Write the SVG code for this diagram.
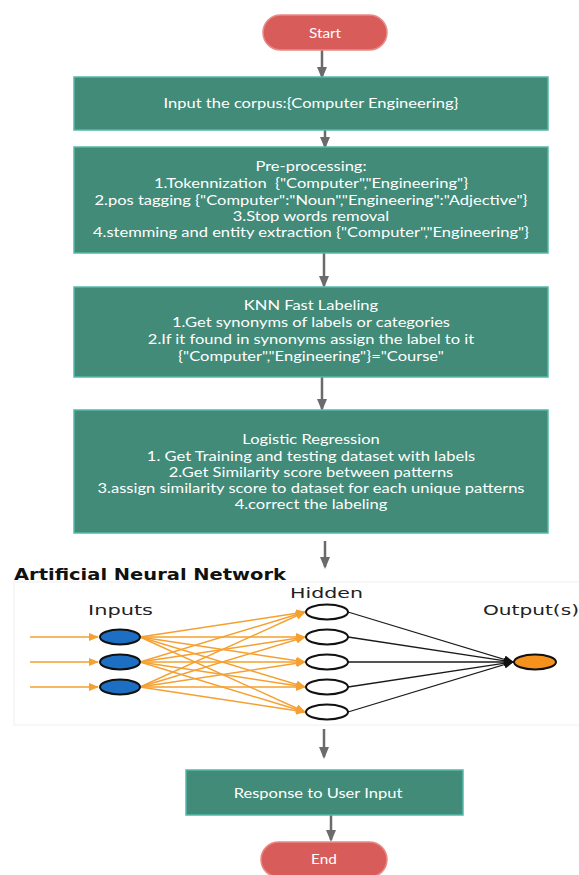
<svg xmlns="http://www.w3.org/2000/svg" width="579" height="875" viewBox="0 0 579 875">
<style>
.box{fill:#418b78;stroke:#55b8aa;stroke-width:1.5}
.pill{fill:#d85c5a;stroke:#e98a86;stroke-width:1.5}
.t{font-family:Lato,"Open Sans","Liberation Sans",sans-serif;font-size:14px;fill:#ffffff;text-anchor:middle;white-space:pre}
.ts{font-size:13px}
.conn{stroke:#6b6b6b;stroke-width:2.5;fill:none}
.or{stroke:#f5a030;stroke-width:1.4;fill:none}
.bk{stroke:#1a1a1a;stroke-width:1.3;fill:none}
.ann{font-family:"DejaVu Sans",Verdana,sans-serif;font-size:14px;fill:#222}
</style>
<defs>
<marker id="ah" markerWidth="12" markerHeight="10" refX="10" refY="5" orient="auto" markerUnits="userSpaceOnUse">
<path d="M0,0 L12,5 L0,10 Z" fill="#6b6b6b"/>
</marker>
<marker id="ao" markerWidth="10" markerHeight="8" refX="9" refY="4" orient="auto" markerUnits="userSpaceOnUse">
<path d="M0,0 L10,4 L0,8 Z" fill="#f5a030"/>
</marker>
<marker id="ab" markerWidth="10" markerHeight="8" refX="9" refY="4" orient="auto" markerUnits="userSpaceOnUse">
<path d="M0,0 L10,4 L0,8 Z" fill="#111"/>
</marker>
</defs>
<rect width="579" height="875" fill="#ffffff"/>

<g id="connectors">
<line class="conn" x1="322" y1="50" x2="322" y2="77" marker-end="url(#ah)"/>
<line class="conn" x1="325" y1="130" x2="325" y2="147" marker-end="url(#ah)"/>
<line class="conn" x1="324" y1="253" x2="324" y2="286" marker-end="url(#ah)"/>
<line class="conn" x1="322" y1="377" x2="322" y2="409" marker-end="url(#ah)"/>
<line class="conn" x1="325" y1="541" x2="325" y2="567" marker-end="url(#ah)"/>
<line class="conn" x1="324" y1="729" x2="324" y2="757" marker-end="url(#ah)"/>
<line class="conn" x1="331" y1="815" x2="331" y2="840" marker-end="url(#ah)"/>
</g>

<g id="start">
<rect class="pill" x="263" y="15" width="124" height="35" rx="17.5"/>
<text class="t ts" transform="translate(325,38) scale(1.18,1)">Start</text>
</g>

<g id="input">
<rect class="box" x="74" y="77" width="474" height="53"/>
<text class="t" transform="translate(311,108) scale(1.18,1)">Input the corpus:{Computer Engineering}</text>
</g>

<g id="preprocessing">
<rect class="box" x="74" y="147" width="474" height="106"/>
<text class="t" transform="translate(311,171) scale(1.18,1)">Pre-processing:</text>
<text class="t" transform="translate(311,188) scale(1.18,1)">1.Tokennization  {"Computer","Engineering"}</text>
<text class="t" transform="translate(311,205) scale(1.18,1)">2.pos tagging {"Computer":"Noun","Engineering":"Adjective"}</text>
<text class="t" transform="translate(311,221) scale(1.18,1)">3.Stop words removal</text>
<text class="t" transform="translate(311,237) scale(1.18,1)">4.stemming and entity extraction {"Computer","Engineering"}</text>
</g>

<g id="knn">
<rect class="box" x="74" y="287" width="474" height="90"/>
<text class="t" transform="translate(311,310) scale(1.18,1)">KNN Fast Labeling</text>
<text class="t" transform="translate(311,327) scale(1.18,1)">1.Get synonyms of labels or categories</text>
<text class="t" transform="translate(311,344) scale(1.18,1)">2.If it found in synonyms assign the label to it</text>
<text class="t" transform="translate(311,361) scale(1.18,1)">{"Computer","Engineering"}="Course"</text>
</g>

<g id="logistic">
<rect class="box" x="74" y="410" width="474" height="123"/>
<text class="t" transform="translate(311,444) scale(1.18,1)">Logistic Regression</text>
<text class="t" transform="translate(311,461) scale(1.18,1)">1. Get Training and testing dataset with labels</text>
<text class="t" transform="translate(311,477) scale(1.18,1)">2.Get Similarity score between patterns</text>
<text class="t" transform="translate(311,493) scale(1.18,1)">3.assign similarity score to dataset for each unique patterns</text>
<text class="t" transform="translate(311,509) scale(1.18,1)">4.correct the labeling</text>
</g>

<g id="ann">
<rect x="14" y="582" width="570" height="143" fill="#ffffff" stroke="#f0f0f0" stroke-width="1"/>
<text x="14" y="580" font-family="DejaVu Sans,Verdana,sans-serif" font-weight="bold" font-size="16" fill="#111" textLength="272" lengthAdjust="spacingAndGlyphs">Artificial Neural Network</text>
<text class="ann" x="88" y="615" textLength="65" lengthAdjust="spacingAndGlyphs">Inputs</text>
<text class="ann" x="290" y="598" textLength="73" lengthAdjust="spacingAndGlyphs">Hidden</text>
<text class="ann" x="483" y="615" textLength="96" lengthAdjust="spacingAndGlyphs">Output(s)</text>
<g>
<line class="or" x1="30" y1="637" x2="98" y2="637" marker-end="url(#ao)"/>
<line class="or" x1="30" y1="662" x2="98" y2="662" marker-end="url(#ao)"/>
<line class="or" x1="30" y1="687" x2="98" y2="687" marker-end="url(#ao)"/>
<line class="or" x1="140" y1="637" x2="305" y2="612" marker-end="url(#ao)"/>
<line class="or" x1="140" y1="637" x2="305" y2="637" marker-end="url(#ao)"/>
<line class="or" x1="140" y1="637" x2="305" y2="662" marker-end="url(#ao)"/>
<line class="or" x1="140" y1="637" x2="305" y2="687" marker-end="url(#ao)"/>
<line class="or" x1="140" y1="637" x2="305" y2="712" marker-end="url(#ao)"/>
<line class="or" x1="140" y1="662" x2="305" y2="612" marker-end="url(#ao)"/>
<line class="or" x1="140" y1="662" x2="305" y2="637" marker-end="url(#ao)"/>
<line class="or" x1="140" y1="662" x2="305" y2="662" marker-end="url(#ao)"/>
<line class="or" x1="140" y1="662" x2="305" y2="687" marker-end="url(#ao)"/>
<line class="or" x1="140" y1="662" x2="305" y2="712" marker-end="url(#ao)"/>
<line class="or" x1="140" y1="687" x2="305" y2="612" marker-end="url(#ao)"/>
<line class="or" x1="140" y1="687" x2="305" y2="637" marker-end="url(#ao)"/>
<line class="or" x1="140" y1="687" x2="305" y2="662" marker-end="url(#ao)"/>
<line class="or" x1="140" y1="687" x2="305" y2="687" marker-end="url(#ao)"/>
<line class="or" x1="140" y1="687" x2="305" y2="712" marker-end="url(#ao)"/>
<line class="bk" x1="348" y1="612" x2="513" y2="662" marker-end="url(#ab)"/>
<line class="bk" x1="348" y1="637" x2="513" y2="662" marker-end="url(#ab)"/>
<line class="bk" x1="348" y1="662" x2="513" y2="662" marker-end="url(#ab)"/>
<line class="bk" x1="348" y1="687" x2="513" y2="662" marker-end="url(#ab)"/>
<line class="bk" x1="348" y1="712" x2="513" y2="662" marker-end="url(#ab)"/>
</g>
<g stroke="#111" stroke-width="2">
<ellipse cx="120" cy="637" rx="20" ry="7.5" fill="#1c6fc2"/>
<ellipse cx="120" cy="662" rx="20" ry="7.5" fill="#1c6fc2"/>
<ellipse cx="120" cy="687" rx="20" ry="7.5" fill="#1c6fc2"/>
<ellipse cx="327" cy="612" rx="21" ry="7.5" fill="#ffffff"/>
<ellipse cx="327" cy="637" rx="21" ry="7.5" fill="#ffffff"/>
<ellipse cx="327" cy="662" rx="21" ry="7.5" fill="#ffffff"/>
<ellipse cx="327" cy="687" rx="21" ry="7.5" fill="#ffffff"/>
<ellipse cx="327" cy="712" rx="21" ry="7.5" fill="#ffffff"/>
<ellipse cx="535" cy="662" rx="21" ry="7.5" fill="#f5921e"/>
</g>
</g>

<g id="response">
<rect class="box" x="186" y="770" width="277" height="45"/>
<text class="t" transform="translate(318,798) scale(1.18,1)">Response to User Input</text>
</g>

<g id="end">
<rect class="pill" x="261" y="842" width="126" height="35" rx="17.5"/>
<text class="t ts" transform="translate(324,864) scale(1.18,1)">End</text>
</g>
</svg>
